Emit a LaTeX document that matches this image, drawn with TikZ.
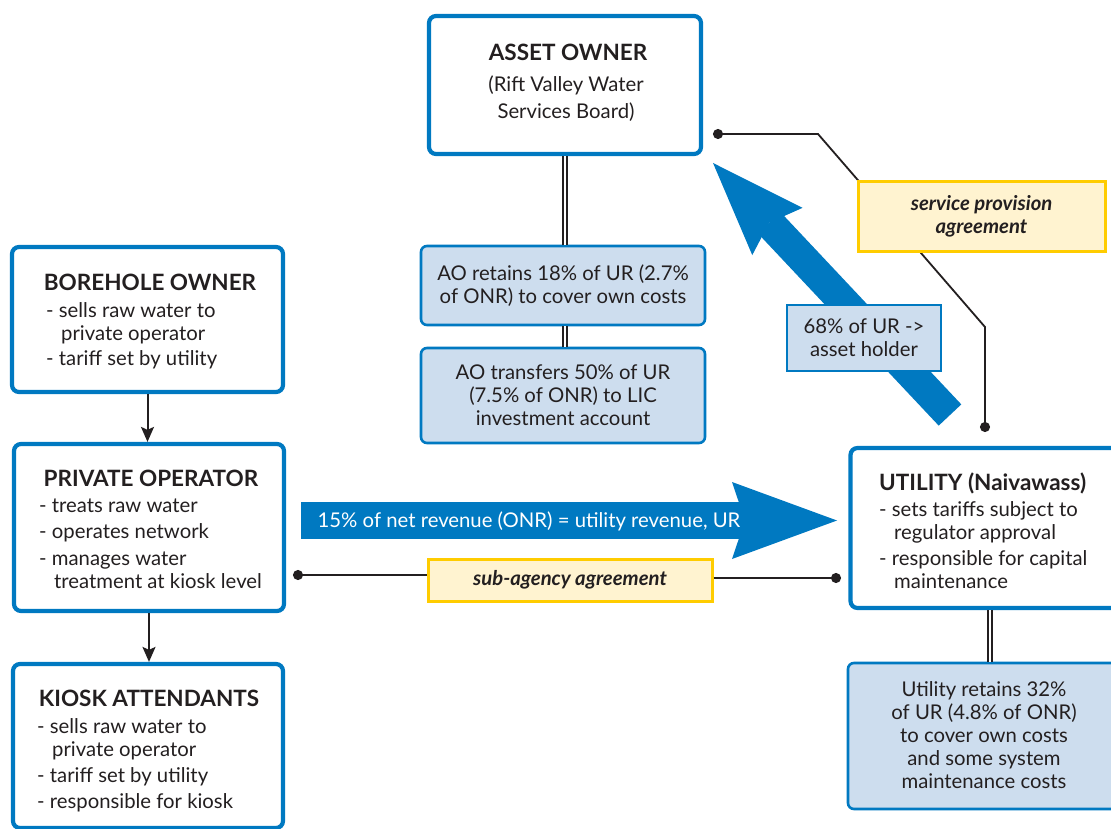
\documentclass[tikz,border=0pt]{standalone}
\usepackage{fontspec}
\setmainfont{Lato}
\usetikzlibrary{arrows.meta,positioning}
\definecolor{aqblue}{RGB}{0,121,193}
\definecolor{aqpale}{RGB}{205,221,238}
\definecolor{aqyellow}{RGB}{255,204,0}
\definecolor{aqcream}{RGB}{255,243,208}
\definecolor{aqink}{RGB}{35,31,32}
\newcommand\boxtext{\fontsize{20.3}{23}\selectfont}
\newcommand\boxhead{\fontsize{22.5}{26}\selectfont\bfseries}
\tikzset{
  actor/.style={draw=aqblue,line width=4.2pt,rounded corners=7pt,fill=white,inner sep=0pt},
  share/.style={draw=aqblue,line width=2.6pt,rounded corners=6pt,fill=aqpale,align=center,inner sep=0pt,text=aqink,font=\boxtext},
  deal/.style={draw=aqyellow,line width=3pt,fill=aqcream,align=center,inner sep=0pt,text=aqink,font=\boxtext\bfseries\itshape},
  title/.style={inner sep=0pt,text=aqink,font=\boxhead},
  lines/.style={inner sep=0pt,text=aqink,font=\boxtext,align=left},
  flow/.style={draw=aqblue},
  dbl/.style={draw=aqink,line width=1.4pt,double=white,double distance=2.6pt},
  feed/.style={draw=aqink,line width=2pt,-{Stealth[length=15pt,width=13pt,inset=3pt]}},
  pin/.style={draw=aqink,line width=1.8pt}
}
\begin{document}
\begin{tikzpicture}[x=1pt,y=-1pt]
\useasboundingbox (0,0) rectangle (1111,829);
\clip (0,0) rectangle (1111,829);
\fill[white] (0,0) rectangle (1111,829);

\coordinate (ao-pin) at (713,134);
\coordinate (ut-pin) at (985,432);
\draw[pin,{Circle[length=10pt]}-{Circle[length=10pt]}] (ut-pin) -- ++(0,-105) -- ++(-167,-193) -- (ao-pin);

\coordinate (po-flow) at (301,520.5);
\coordinate (ut-flow) at (837,520.5);
\draw[flow,line width=37pt,-{Stealth[length=105pt,width=77pt,inset=13pt,line width=0pt]}] (po-flow) -- (ut-flow);
\coordinate (ut-back) at (950,415);
\coordinate (ao-back) at (713,163);
\draw[flow,line width=31pt,-{Stealth[length=94pt,width=69pt,inset=12pt,line width=0pt]}] (ut-back) -- (ao-back);
\node[lines,text=white,align=center] (flow-label) at (529,521) {15\% of net revenue (ONR) = utility revenue, UR};

\node[actor,minimum width=272pt,minimum height=138pt] (ao) at (565,85) {};
\node[actor,minimum width=271pt,minimum height=145pt] (bh) at (147.5,319.5) {};
\node[actor,minimum width=270pt,minimum height=167pt] (po) at (149,527.5) {};
\node[actor,minimum width=270pt,minimum height=164pt] (ka) at (148,746) {};
\node[actor,minimum width=279pt,minimum height=160pt] (ut) at (990,528) {};

\node[title,anchor=base] (ao-title) at (568,61) {ASSET OWNER};
\node[lines,align=center,anchor=north] (ao-text) at (566,75.5) {(Rift Valley Water\\[4pt]Services Board)};
\node[title,anchor=base] (bh-title) at (150,290) {BOREHOLE OWNER};
\node[lines,anchor=north west] (bh-text) at (46,302.5) {- sells raw water to\\\hspace*{15pt}private operator\\[2pt]- tariff set by utility};
\node[title,anchor=base] (po-title) at (151,486) {PRIVATE OPERATOR};
\node[lines,anchor=north west] (po-text) at (39,498.5) {- treats raw water\\[3pt]- operates network\\[4pt]- manages water\\\hspace*{15pt}treatment at kiosk level};
\node[title,anchor=base] (ka-title) at (149,706) {KIOSK ATTENDANTS};
\node[lines,anchor=north west] (ka-text) at (37,718.5) {- sells raw water to\\\hspace*{15pt}private operator\\[3pt]- tariff set by utility\\[3pt]- responsible for kiosk};
\node[title,anchor=base west] (ut-title) at (879,490) {UTILITY (Naivawass)};
\node[lines,anchor=north west] (ut-text) at (879,501.5) {- sets tariffs subject to\\\hspace*{15pt}regulator approval\\[3pt]- responsible for capital\\\hspace*{15pt}maintenance};

\node[share,minimum width=284pt,minimum height=79pt] (aor) at (563,285.5) {AO retains 18\% of UR (2.7\%\\of ONR) to cover own costs};
\node[share,minimum width=284pt,minimum height=95pt] (aot) at (563,395.5) {AO transfers 50\% of UR\\(7.5\% of ONR) to LIC\\investment account};
\node[share,rounded corners=0pt,minimum width=154pt,minimum height=66pt] (pct) at (864,338) {68\% of UR ->\\asset holder};
\node[share,minimum width=282pt,minimum height=146pt] (utr) at (989,736) {};
\node[lines,align=center] (utr-text) at (984,735) {Utility retains 32\%\\of UR (4.8\% of ONR)\\to cover own costs\\and some system\\maintenance costs};

\node[deal,minimum width=247pt,minimum height=69pt] (spa) at (981.5,216.5) {service provision\\agreement};
\node[deal,minimum width=284pt,minimum height=42pt] (saa) at (570,580) {sub-agency agreement};

\draw[dbl] (ao.south) -- (ao.south |- aor.north);
\draw[dbl] (ao.south |- aor.south) -- (ao.south |- aot.north);
\draw[dbl] (ut.south) -- (ut.south |- utr.north);
\draw[feed] (bh.south) -- (bh.south |- po.north);
\draw[feed] (po.south) -- (po.south |- ka.north);

\coordinate (po-pin) at (293,575);
\coordinate (ut-pin2) at (841,578);
\draw[pin,{Circle[length=10pt]}-] (po-pin) -- (po-pin -| saa.west);
\draw[pin,-{Circle[length=10pt]}] (saa.east |- ut-pin2) -- (ut-pin2);
\end{tikzpicture}
\end{document}
